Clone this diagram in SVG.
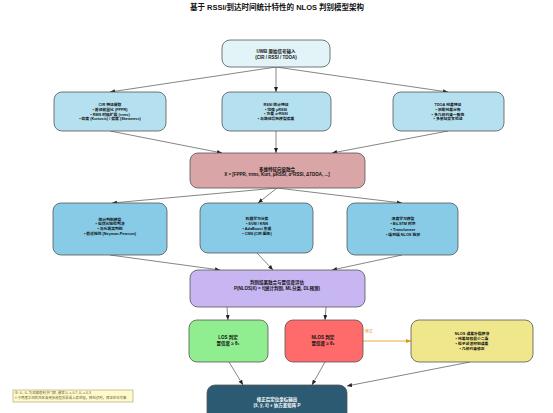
<svg xmlns="http://www.w3.org/2000/svg" width="553" height="413" viewBox="0 0 553 413">
<defs>
<marker id="ah" markerUnits="userSpaceOnUse" markerWidth="5" markerHeight="4" refX="5" refY="2" orient="auto"><path d="M0,0 L5,2 L0,4 z" fill="#222"/></marker>
<marker id="ao" markerUnits="userSpaceOnUse" markerWidth="5" markerHeight="4" refX="5" refY="2" orient="auto"><path d="M0,0 L5,2 L0,4 z" fill="#e8920c"/></marker>
<style>
text{font-family:"Liberation Sans","Noto Sans CJK SC",sans-serif;font-weight:bold;text-anchor:middle;fill:#111}
.box{stroke:#555;stroke-width:0.8}
.c{stroke:#333;stroke-width:0.6;fill:none;marker-end:url(#ah)}
.s{font-size:3.8px}
.m{font-size:4.5px}
</style>
</defs>
<rect width="553" height="413" fill="#fff"/>
<text x="277" y="9.5" style="font-size:7.5px">基于 RSSI/到达时间统计特性的 NLOS 判别模型架构</text>

<g id="connectors">
<line class="c" x1="276" y1="67" x2="110" y2="92"/>
<line class="c" x1="276" y1="67" x2="276" y2="92"/>
<line class="c" x1="276" y1="67" x2="448" y2="92"/>
<line class="c" x1="110" y1="131" x2="222" y2="153"/>
<line class="c" x1="276" y1="131" x2="276" y2="153"/>
<line class="c" x1="448" y1="131" x2="332" y2="153"/>
<line class="c" x1="277" y1="188" x2="112" y2="203"/>
<line class="c" x1="277" y1="188" x2="258" y2="203"/>
<line class="c" x1="277" y1="188" x2="402" y2="203"/>
<line class="c" x1="110" y1="255" x2="220" y2="270"/>
<line class="c" x1="257" y1="253" x2="273" y2="270"/>
<line class="c" x1="402" y1="255" x2="332" y2="270"/>
<line class="c" x1="227" y1="307" x2="228" y2="320"/>
<line class="c" x1="326" y1="307" x2="325" y2="320"/>
<line class="c" x1="229" y1="362" x2="243" y2="385"/>
<line class="c" x1="325" y1="362" x2="312" y2="385"/>
<line class="c" x1="470" y1="362" x2="347" y2="386"/>
<line x1="325" y1="341" x2="411" y2="341" stroke="#e8920c" stroke-width="0.8" marker-end="url(#ao)"/>
<text x="369" y="333" style="font-size:4px;fill:#e8920c;font-weight:normal">修正</text>
</g>

<g id="input">
<rect class="box" x="222" y="40" width="108" height="27" rx="8" fill="#e2f4f8"/>
<text class="m" x="276" y="53.3">UWB 原始信号输入</text>
<text class="m" x="276" y="59.3">(CIR / RSSI / TDOA)</text>
</g>

<g id="cir">
<rect class="box" x="54" y="92" width="112" height="39" rx="8" fill="#b5e0f0"/>
<text class="s" x="110" y="106.3">CIR 特征提取</text>
<text class="s" x="110" y="111">• 首径能量比 (FPPR)</text>
<text class="s" x="110" y="115.6">• RMS 时延扩展 (τrms)</text>
<text class="s" x="110" y="120.3">• 峰度 (Kurtosis) / 偏度 (Skewness)</text>
</g>

<g id="rssi">
<rect class="box" x="222" y="92" width="109" height="39" rx="8" fill="#b5e0f0"/>
<text class="s" x="276" y="106">RSSI 统计特征</text>
<text class="s" x="276" y="110.6">• 均值 μRSSI</text>
<text class="s" x="276" y="115.2">• 方差 σ²RSSI</text>
<text class="s" x="276" y="119.8">• 与路径损耗模型偏差</text>
</g>

<g id="tdoa">
<rect class="box" x="393" y="92" width="111" height="39" rx="8" fill="#b5e0f0"/>
<text class="s" x="448" y="106.3">TDOA 残差特征</text>
<text class="s" x="448" y="111">• 测距残差分布</text>
<text class="s" x="448" y="115.6">• 多几何约束一致性</text>
<text class="s" x="448" y="120.3">• 多基站交叉验证</text>
</g>

<g id="fusion">
<rect class="box" x="190" y="153" width="175" height="35" rx="8" fill="#d9a5a7"/>
<text class="m" x="277" y="170.5">多维特征向量融合</text>
<text class="m" x="277" y="176">X = [FPPR, τrms, Kurt, μRSSI, σ²RSSI, ΔTDOA, ...]</text>
</g>

<g id="stat">
<rect class="box" x="53" y="203" width="114" height="52" rx="8" fill="#87cbe6"/>
<text class="s" x="110" y="220.6">统计判别模型</text>
<text class="s" x="110" y="225.3">• 似然比检验判决</text>
<text class="s" x="110" y="230">• 马氏距离判别</text>
<text class="s" x="110" y="234.6">• 假设检验 (Neyman-Pearson)</text>
</g>

<g id="ml">
<rect class="box" x="200" y="203" width="113" height="50" rx="8" fill="#87cbe6"/>
<text class="s" x="257" y="220.3">机器学习分类</text>
<text class="s" x="257" y="225.3">• SVM / KNN</text>
<text class="s" x="257" y="230.3">• AdaBoost 集成</text>
<text class="s" x="257" y="234.6">• CNN (CIR 图像)</text>
</g>

<g id="dl">
<rect class="box" x="347" y="203" width="111" height="52" rx="8" fill="#87cbe6"/>
<text class="s" x="403" y="220.3">深度学习模型</text>
<text class="s" x="403" y="225.3">• BiLSTM 时序</text>
<text class="s" x="403" y="230.6">• Transformer</text>
<text class="s" x="403" y="235.6">• 端到端 NLOS 检测</text>
</g>

<g id="decision">
<rect class="box" x="190" y="270" width="175" height="37" rx="8" fill="#c8b6f2"/>
<text class="m" x="277" y="283.6">判别结果融合与置信度评估</text>
<text class="m" x="277" y="289.6">P(NLOS|X) = f(统计判别, ML分类, DL预测)</text>
</g>

<g id="los">
<rect class="box" x="189" y="320" width="79" height="42" rx="8" fill="#90ee90"/>
<text class="m" x="228" y="338.9">LOS 判定</text>
<text class="m" x="228" y="344.9">置信度 ≥ θ₁</text>
</g>

<g id="nlos">
<rect class="box" x="285" y="320" width="78" height="42" rx="8" fill="#ff6b6b"/>
<text class="m" x="323" y="338.9">NLOS 判定</text>
<text class="m" x="323" y="344.9">置信度 ≥ θ₂</text>
</g>

<g id="mitigation">
<rect class="box" x="411" y="320" width="122" height="42" rx="8" fill="#f0e68c"/>
<text class="s" x="472" y="334.6">NLOS 误差补偿模块</text>
<text class="s" x="472" y="339.6">• 残差加权最小二乘</text>
<text class="s" x="472" y="345.3">• 粒子滤波抑制误差</text>
<text class="s" x="472" y="349.6">• 几何约束修正</text>
</g>

<g id="output">
<rect x="207" y="385" width="140" height="40" rx="8" fill="#2c5a72" stroke="#555" stroke-width="0.8"/>
<text class="m" x="277" y="400.9" style="fill:#fff">修正后定位坐标输出</text>
<text class="m" x="277" y="406.6" style="fill:#fff">(x̂, ŷ, ẑ) + 协方差矩阵 P</text>
</g>

<g id="legend">
<rect x="13" y="390" width="120" height="12" fill="#fffacd" stroke="#a89a60" stroke-width="0.6"/>
<text x="14.5" y="394" style="font-size:3.4px;font-weight:normal;text-anchor:start;fill:#6b5a2a">注: θ₁, θ₂ 为双阈值判决门限, 通常 θ₁ = 0.7, θ₂ = 0.3</text>
<text x="14.5" y="398.6" style="font-size:3.4px;font-weight:normal;text-anchor:start;fill:#6b5a2a">介于两者之间的灰区采用多模型投票或上报处理，降低误判，保证定位可靠</text>
</g>
</svg>
